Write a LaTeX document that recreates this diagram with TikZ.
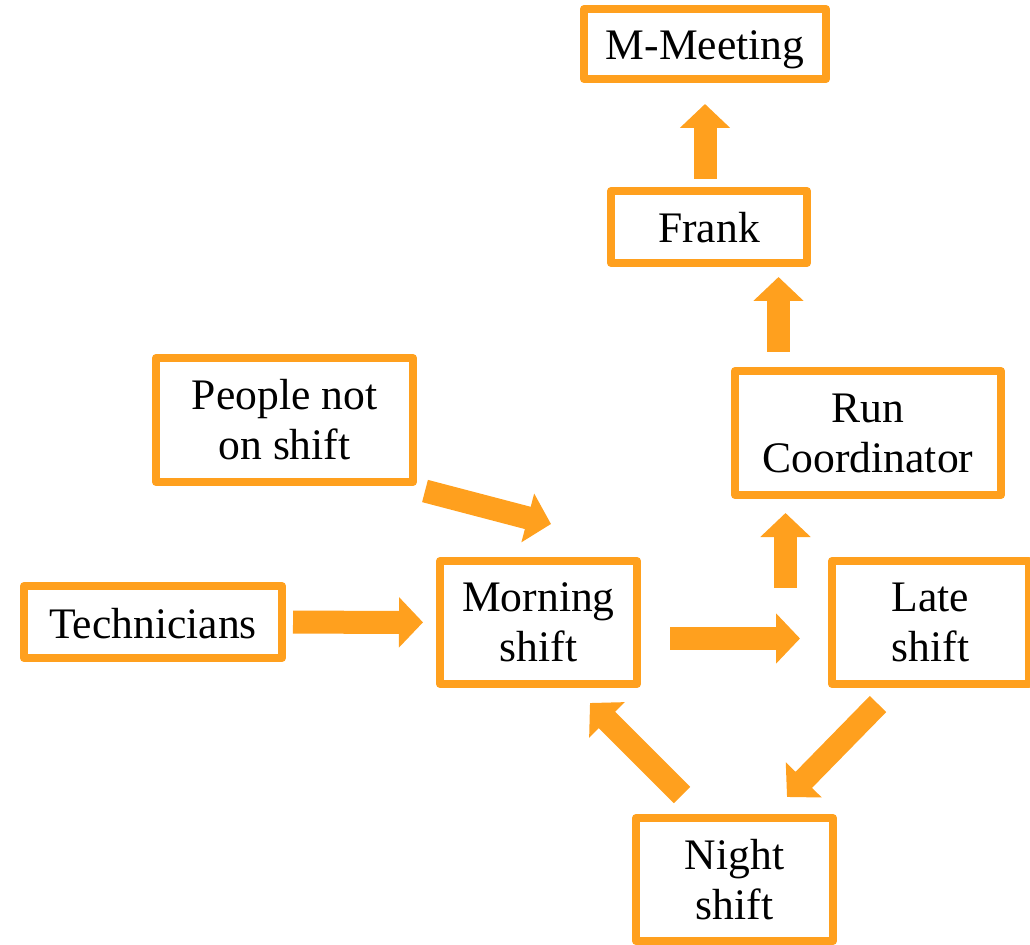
\documentclass[tikz,border=0pt]{standalone}
\usepackage{fontspec}
\setmainfont{Liberation Serif}
\usetikzlibrary{calc,arrows.meta}
\definecolor{ShiftOrange}{HTML}{FFA01E}

\begin{document}
\begin{tikzpicture}[
    box/.style={draw=ShiftOrange, line width=0.2cm, line join=round, fill=white,
      align=center, inner sep=0pt, font=\fontsize{31}{35.6}\selectfont},
    onebox/.style={box, minimum height=1.8cm, text height=0.8cm, text depth=0pt},
    twobox/.style={box, minimum height=3.075cm},
    bigarrow/.style={ShiftOrange, line width=0.575cm,
      -{Triangle[length=0.6cm,width=1.225cm]}}
  ]
  \useasboundingbox (0,0) rectangle (25.75,-23.625);

  % Boxes
  \node[onebox, minimum width=6.05cm, minimum height=1.75cm] (mmeet) at (17.625,-1.1) {M-Meeting};
  \node[onebox, minimum width=4.9cm] (frank) at (17.725,-5.675) {Frank};
  \node[twobox, minimum width=6.65cm, minimum height=3.1cm] (runco) at (21.7,-10.825) {Run\\Coordinator};
  \node[twobox, minimum width=6.425cm, minimum height=3.1cm] (people) at (7.1125,-10.5) {People not\\on shift};
  \node[onebox, minimum width=6.45cm] (tech) at (3.825,-15.55) {Technicians};
  \node[twobox, minimum width=4.925cm] (morning) at (13.4625,-15.5625) {Morning\\shift};
  \node[twobox, minimum width=4.925cm] (late) at (23.2625,-15.5625) {Late\\shift};
  \node[twobox, minimum width=4.925cm] (night) at (18.3625,-21.9875) {Night\\shift};

  % Into the morning shift
  \draw[bigarrow, shorten <=0.175cm, shorten >=0.325cm] (tech) -- (morning);
  \draw[bigarrow] ($(people.south east)+(0.2,-0.125)$) -- ($(morning.north west)+(2.875,0.825)$);

  % Shift cycle
  \draw[bigarrow, shorten <=0.725cm, shorten >=0.7cm] ([yshift=-0.4cm]morning.east) -- ([yshift=-0.4cm]late.west);
  \draw[bigarrow] ($(late.south west)+(1.25,-0.4)$) -- ($(night.north east)+(-1.25,0.425)$);
  \draw[bigarrow] ($(night.north west)+(1.25,0.475)$) -- ($(morning.south east)+(-1.275,-0.375)$);

  % Reporting line
  \draw[bigarrow] ($(late.north west)+(-1.0625,-0.775)$) -- ($(late.north west |- runco.south)+(-1.0625,-0.35)$);
  \draw[bigarrow] ($(runco.north west)+(1.1875,0.375)$) -- ($(runco.north west |- frank.south)+(1.1875,-0.25)$);
  \draw[bigarrow, shorten <=0.2cm, shorten >=0.525cm] (frank.north -| mmeet) -- (mmeet.south);
\end{tikzpicture}
\end{document}
